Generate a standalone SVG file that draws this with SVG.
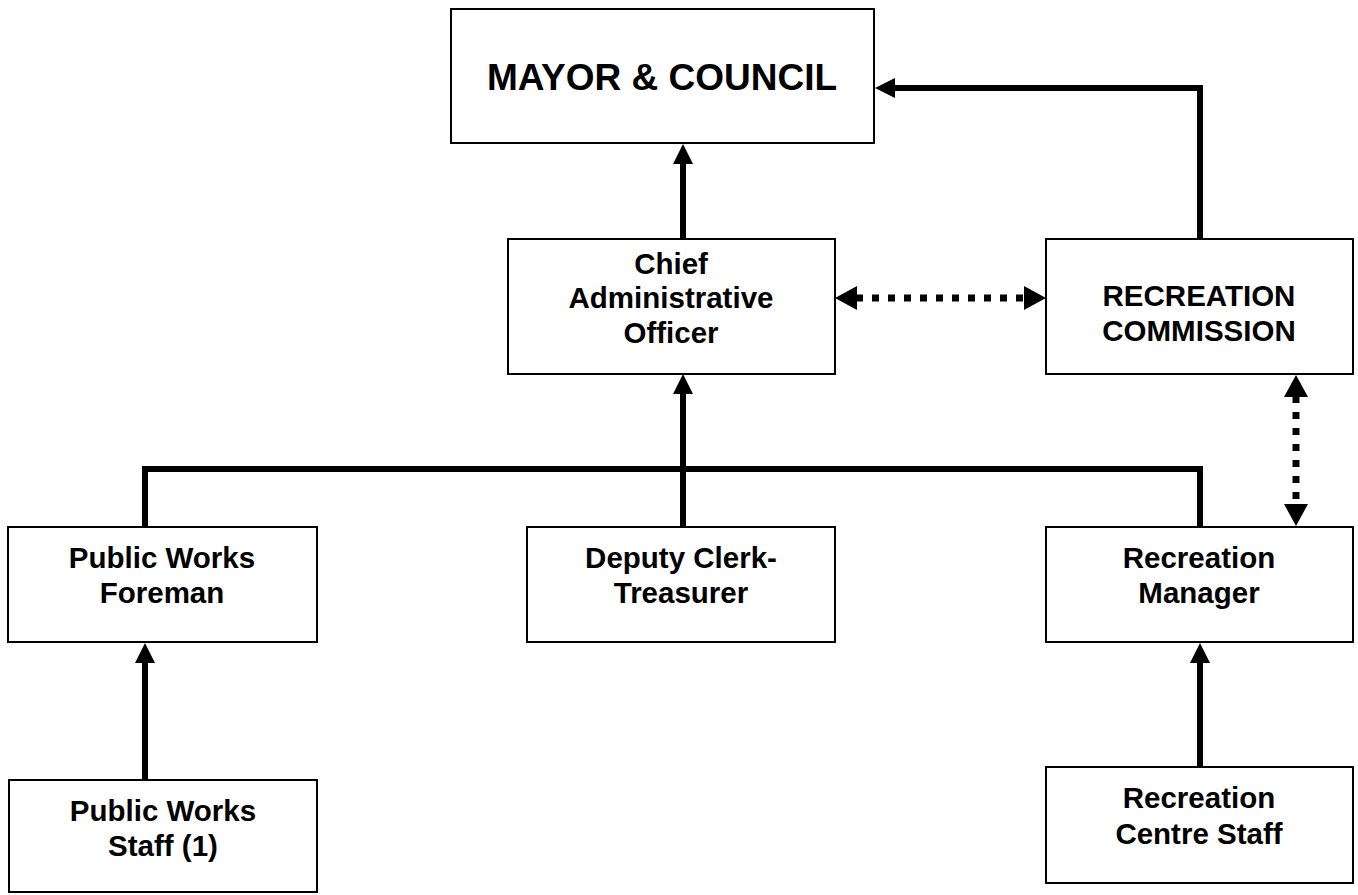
<svg xmlns="http://www.w3.org/2000/svg" width="1358" height="895" viewBox="0 0 1358 895">
<style>
.box{fill:#fff;stroke:#000;stroke-width:2}
.t{font-family:"Liberation Sans",Arial,sans-serif;font-weight:bold;font-size:29.5px;text-anchor:middle;fill:#000}
.big{font-size:37px}
.ln{fill:none;stroke:#000;stroke-width:6}
.dot{stroke-width:7;stroke-dasharray:7 9}
</style>
<defs>
<marker id="ah" markerUnits="userSpaceOnUse" markerWidth="22" markerHeight="22" refX="1" refY="11" orient="auto-start-reverse">
<path d="M0,1 L20,11 L0,21 z" fill="#000"/>
</marker>
<marker id="ahd" markerUnits="userSpaceOnUse" markerWidth="24" markerHeight="26" refX="1" refY="13" orient="auto-start-reverse">
<path d="M0,1 L22,13 L0,25 z" fill="#000"/>
</marker>
</defs>
<rect width="1358" height="895" fill="#fff"/>
<g id="connectors">
<path class="ln" d="M683,239 V163" marker-end="url(#ah)"/>
<path class="ln" d="M683,527 V393" marker-end="url(#ah)"/>
<path class="ln" d="M145,527 V469 H1200 V527"/>
<path class="ln" d="M1200,239 V88 H894" marker-end="url(#ah)"/>
<path class="ln" d="M145,780 V662" marker-end="url(#ah)"/>
<path class="ln" d="M1200,767 V662" marker-end="url(#ah)"/>
<path class="ln dot" d="M856,298 H1025" marker-start="url(#ahd)" marker-end="url(#ahd)"/>
<path class="ln dot" d="M1296,396 V505" marker-start="url(#ahd)" marker-end="url(#ahd)"/>
</g>
<g id="mayor">
<rect class="box" x="451" y="9" width="423" height="134"/>
<text class="t big" x="662" y="90">MAYOR &amp; COUNCIL</text>
</g>
<g id="cao">
<rect class="box" x="508" y="239" width="327" height="135"/>
<text class="t" x="671" y="274">Chief</text>
<text class="t" x="671" y="308">Administrative</text>
<text class="t" x="671" y="343">Officer</text>
</g>
<g id="recreation-commission">
<rect class="box" x="1046" y="239" width="307" height="135"/>
<text class="t" x="1199" y="306">RECREATION</text>
<text class="t" x="1199" y="341">COMMISSION</text>
</g>
<g id="public-works-foreman">
<rect class="box" x="8" y="527" width="309" height="115"/>
<text class="t" x="162" y="568">Public Works</text>
<text class="t" x="162" y="603">Foreman</text>
</g>
<g id="deputy-clerk">
<rect class="box" x="527" y="527" width="308" height="115"/>
<text class="t" x="681" y="568">Deputy Clerk-</text>
<text class="t" x="681" y="603">Treasurer</text>
</g>
<g id="recreation-manager">
<rect class="box" x="1046" y="527" width="307" height="115"/>
<text class="t" x="1199" y="568">Recreation</text>
<text class="t" x="1199" y="603">Manager</text>
</g>
<g id="public-works-staff">
<rect class="box" x="9" y="780" width="308" height="112"/>
<text class="t" x="163" y="821">Public Works</text>
<text class="t" x="163" y="856">Staff (1)</text>
</g>
<g id="recreation-centre-staff">
<rect class="box" x="1046" y="767" width="307" height="116"/>
<text class="t" x="1199" y="808">Recreation</text>
<text class="t" x="1199" y="844">Centre Staff</text>
</g>
</svg>
